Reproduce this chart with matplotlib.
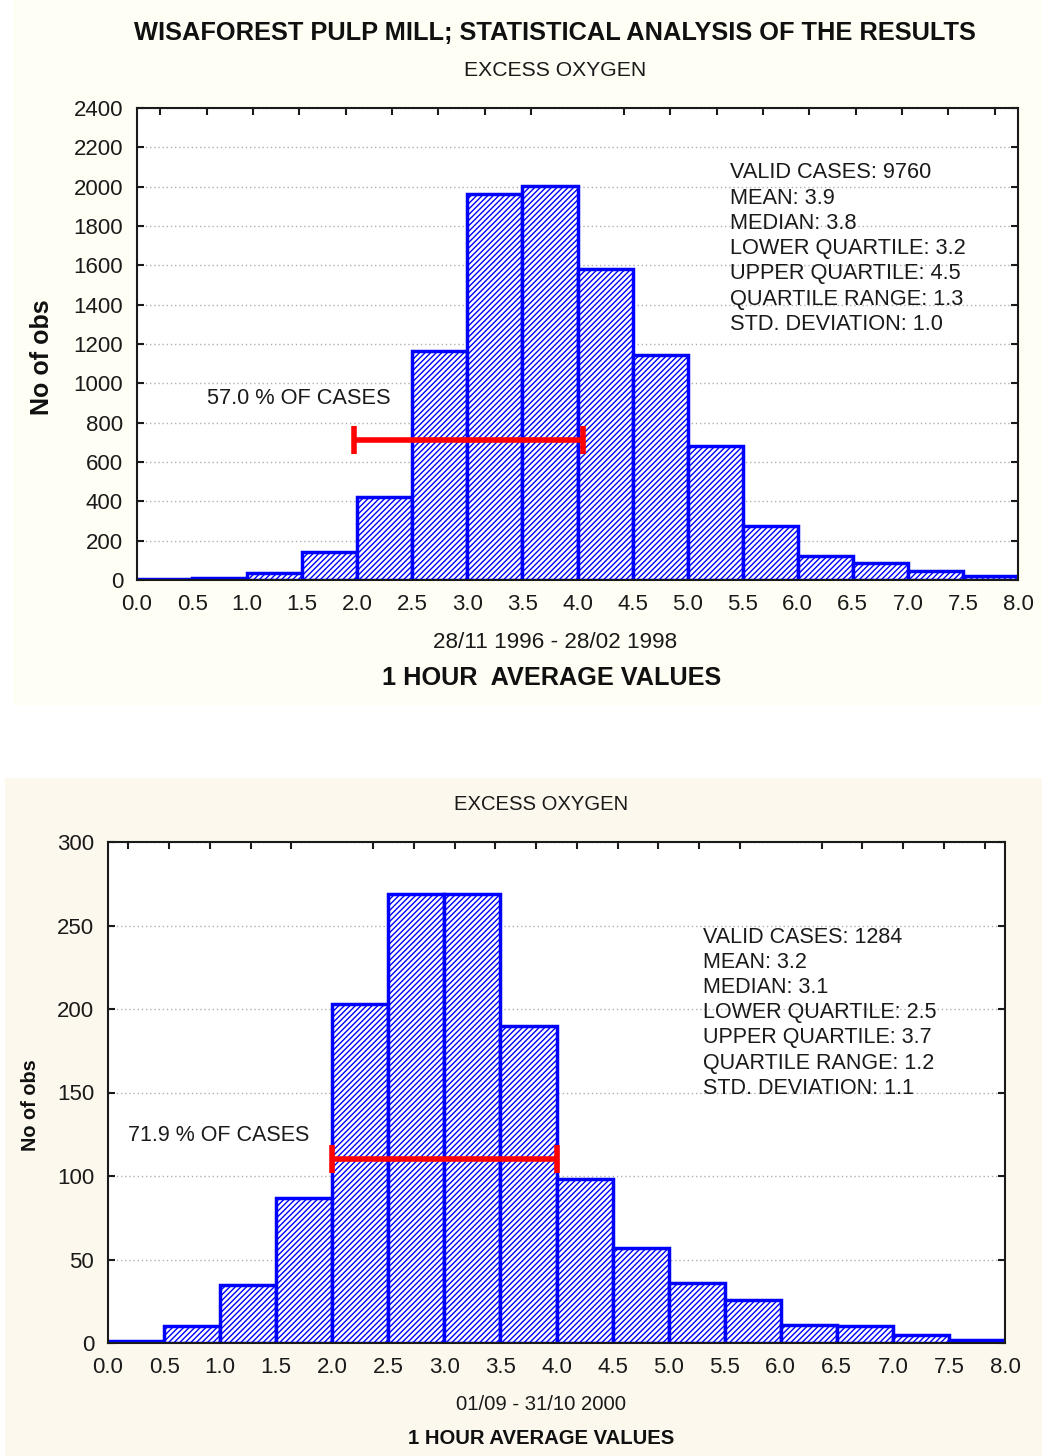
import matplotlib
matplotlib.use("Agg")
import matplotlib.pyplot as plt
from matplotlib.patches import Rectangle
import numpy as np

plt.rcParams['font.family'] = ['Liberation Sans', 'DejaVu Sans']
plt.rcParams['hatch.linewidth'] = 1.0

# ---- data ----
bin_edges = [0.0, 0.5, 1.0, 1.5, 2.0, 2.5, 3.0, 3.5, 4.0, 4.5, 5.0, 5.5, 6.0, 6.5, 7.0, 7.5]
tick_labels = ["0.0", "0.5", "1.0", "1.5", "2.0", "2.5", "3.0", "3.5", "4.0",
               "4.5", "5.0", "5.5", "6.0", "6.5", "7.0", "7.5", "8.0"]

counts_1 = [5, 10, 37, 141, 420, 1165, 1962, 2003, 1580, 1144, 681, 276, 122, 85, 44, 20]
counts_2 = [1, 10, 35, 87, 203, 269, 269, 190, 98, 57, 36, 26, 11, 10, 5, 2]

stats_1 = ["VALID CASES: 9760", "MEAN: 3.9", "MEDIAN: 3.8", "LOWER QUARTILE: 3.2",
           "UPPER QUARTILE: 4.5", "QUARTILE RANGE: 1.3", "STD. DEVIATION: 1.0"]
stats_2 = ["VALID CASES: 1284", "MEAN: 3.2", "MEDIAN: 3.1", "LOWER QUARTILE: 2.5",
           "UPPER QUARTILE: 3.7", "QUARTILE RANGE: 1.2", "STD. DEVIATION: 1.1"]

range_1 = (1.97, 4.05, 712)   # x from, x to, y level
range_2 = (2.0, 4.0, 110)
pct_1 = "57.0 % OF CASES"
pct_2 = "71.9 % OF CASES"

W, H = 1042, 1456
fig = plt.figure(figsize=(W / 100, H / 100), dpi=100)
fig.patch.set_facecolor('white')


def fx(px):
    return px / W


def fy(py):
    return 1 - py / H


# background panels
fig.patches.append(Rectangle((fx(13), fy(705)), fx(W - 13), 705 / H,
                             transform=fig.transFigure, facecolor='#fefef4',
                             edgecolor='none', zorder=-10))
fig.patches.append(Rectangle((fx(5), 0), fx(W - 5), (H - 778) / H,
                             transform=fig.transFigure, facecolor='#fcf8ed',
                             edgecolor='none', zorder=-10))

TXT = '#1a1a1a'


def make_panel(rect, counts, ymax, ystep, stats, rng, pct, n_top, tick_fs,
               stats_px, pct_xy, pct_fs, stats_fs):
    l, t, r, b = rect
    ax = fig.add_axes([fx(l), fy(b), fx(r - l), (b - t) / H])
    ax.set_facecolor('white')
    ax.bar(bin_edges, counts, width=0.5, align='edge', facecolor='white',
           edgecolor='#0000ff', hatch='//////', linewidth=2.5, zorder=2)
    ax.set_xlim(0, 8)
    ax.set_ylim(0, ymax)
    ax.set_xticks(np.arange(0, 8.01, 0.5))
    ax.set_xticklabels(tick_labels)
    ax.set_yticks(np.arange(0, ymax + 1, ystep))
    ax.set_axisbelow(True)
    ax.yaxis.grid(True, linestyle=(0, (1, 2)), color='#b0b0b0', linewidth=1)
    ax.tick_params(axis='x', which='major', length=0, pad=10,
                   labelsize=tick_fs, colors=TXT)
    ax.tick_params(axis='y', which='major', direction='in', left=True,
                   right=True, length=5, width=1.5, labelsize=tick_fs,
                   pad=10, colors=TXT)
    # top ticks
    ax.set_xticks([(i + 0.5) * 8 / n_top for i in range(n_top)], minor=True)
    ax.tick_params(axis='x', which='minor', bottom=False, top=True,
                   direction='in', length=5, width=1.5, color=TXT)
    for s in ax.spines.values():
        s.set_linewidth(1.5)
        s.set_color(TXT)
    # stats block, one line each
    sx, sy, sdy = stats_px
    for i, line in enumerate(stats):
        fig.text(fx(sx), fy(sy + sdy * i), line, fontsize=stats_fs,
                 va='center', ha='left', color=TXT, zorder=5)
    ax.text(pct_xy[0], pct_xy[1], pct, transform=ax.transData,
            fontsize=pct_fs, va='center', ha='left', color=TXT, zorder=5)
    x0, x1, yl = rng
    ax.errorbar([(x0 + x1) / 2], [yl], xerr=[[(x1 - x0) / 2], [(x1 - x0) / 2]],
                fmt='none', ecolor='#ff0000', elinewidth=4, capsize=10,
                capthick=4, zorder=6)
    return ax


ax1 = make_panel((137, 108, 1018, 580), counts_1, 2400, 200, stats_1, range_1,
                 pct_1, 19, 16, (730, 173, 25.2), (0.64, 925), 15.7, 15.7)
ax2 = make_panel((108, 842, 1005, 1343), counts_2, 300, 50, stats_2, range_2,
                 pct_2, 22, 16, (703, 937, 25.2), (0.18, 124), 15.5, 15.5)

# texts top panel
fig.text(fx(555), fy(33), "WISAFOREST PULP MILL; STATISTICAL ANALYSIS OF THE RESULTS",
         ha='center', va='center', fontsize=18.3, fontweight='bold', color='#101010')
fig.text(fx(555), fy(71), "EXCESS OXYGEN", ha='center', va='center', fontsize=15.2,
         color=TXT)
fig.text(fx(555), fy(642), "28/11 1996 - 28/02 1998", ha='center', va='center',
         fontsize=16.2, color=TXT)
fig.text(fx(552), fy(678), "1 HOUR  AVERAGE VALUES", ha='center', va='center',
         fontsize=18.2, fontweight='bold', color='#101010')
fig.text(fx(42), fy(357), "No of obs", ha='center', va='center', fontsize=18,
         fontweight='bold', rotation=90, color='#101010')

# texts bottom panel
fig.text(fx(541), fy(804), "EXCESS OXYGEN", ha='center', va='center', fontsize=14.6,
         color=TXT)
fig.text(fx(541), fy(1405), "01/09 - 31/10 2000", ha='center', va='center',
         fontsize=14.6, color=TXT)
fig.text(fx(541), fy(1438), "1 HOUR AVERAGE VALUES", ha='center', va='center',
         fontsize=14.6, fontweight='bold', color='#101010')
fig.text(fx(30), fy(1105), "No of obs", ha='center', va='center', fontsize=14.3,
         fontweight='bold', rotation=90, color='#101010')

fig.savefig("out.png", dpi=100)
